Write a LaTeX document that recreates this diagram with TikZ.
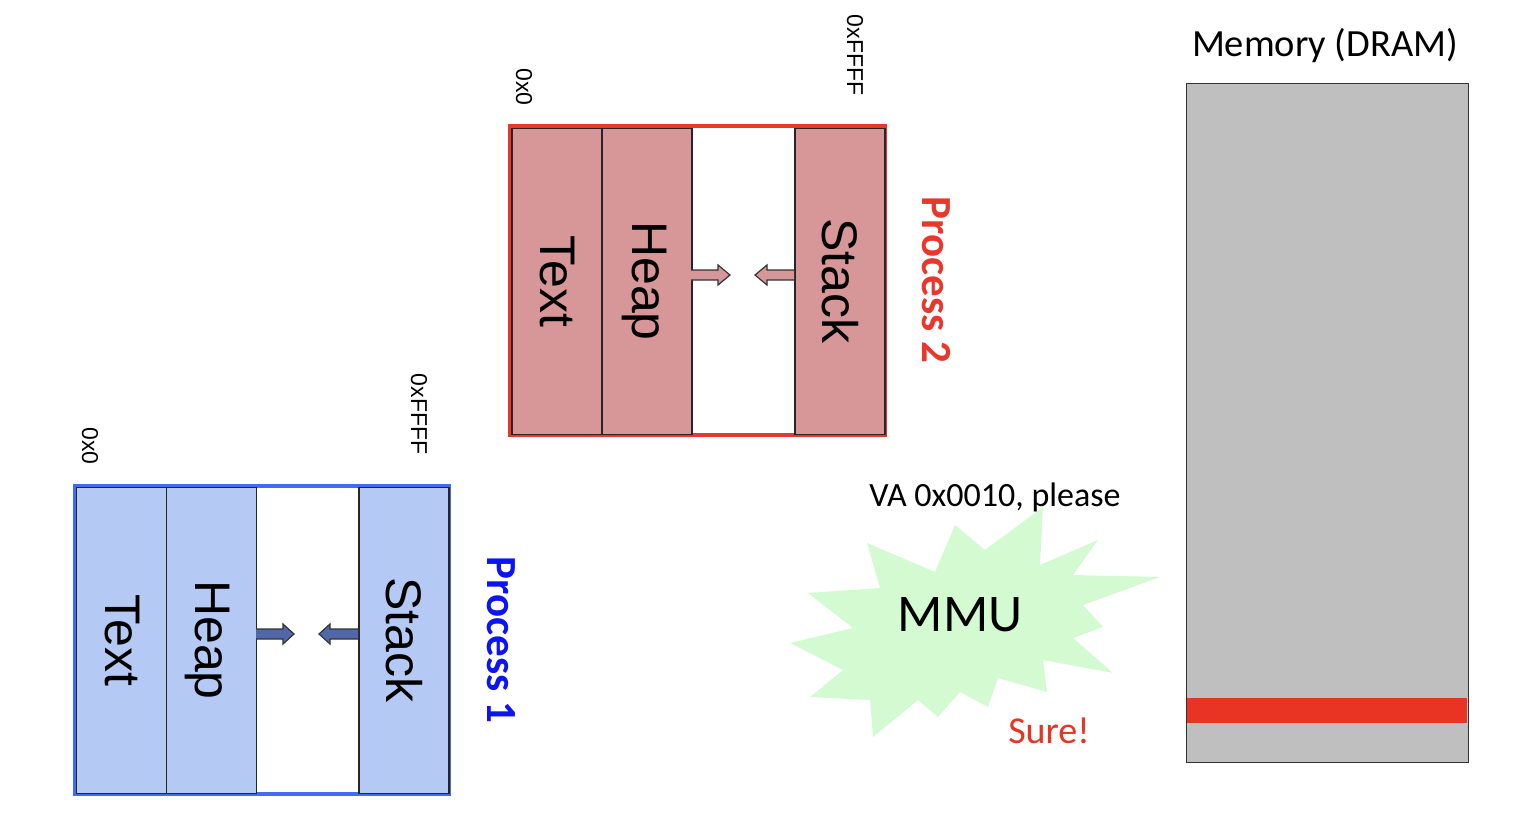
\documentclass[tikz,border=0pt]{standalone}
\usepackage{fontspec}
\setmainfont{Liberation Sans}
\newfontfamily\calfont{Carlito}
\definecolor{pinkfill}{RGB}{215,150,152}
\definecolor{redline}{RGB}{233,56,43}
\definecolor{bluefill}{RGB}{180,201,243}
\definecolor{blueline}{RGB}{66,108,240}
\definecolor{bluetext}{RGB}{10,20,245}
\definecolor{arrowblue}{RGB}{80,104,168}
\definecolor{memgray}{RGB}{191,191,191}
\definecolor{memred}{RGB}{233,52,36}
\definecolor{mmugreen}{RGB}{212,250,210}
\newcommand{\blockarrow}[5]{% x0, xh, xtip, y, fill
  \draw[line width=1.2pt, fill=#5, draw=black!80, line join=miter] (#1,#4-5) -- (#2,#4-5) -- (#2,#4-10) -- (#3,#4) -- (#2,#4+10) -- (#2,#4+5) -- (#1,#4+5);
}
\begin{document}
\begin{tikzpicture}[x=1pt,y=-1pt,
  col/.style={draw=black!85, line width=1.5pt, minimum width=#1, minimum height=306pt, inner sep=0pt, anchor=north west},
  seglabel/.style={font=\fontsize{50}{50}\selectfont, rotate=-90},
  addr/.style={font=\fontsize{23}{23}\selectfont, rotate=-90},
  proc/.style={font=\calfont\bfseries\fontsize{43}{43}\selectfont, rotate=-90}]
\useasboundingbox (0,0) rectangle (1530,816);

% ---------- Process 2 ----------
\draw[redline, line width=3.5pt] (510,126) rectangle (885,435);
\node[col=90pt, fill=pinkfill] (p2text) at (511,127.5) {};
\node[col=90pt, fill=pinkfill] (p2heap) at (601,127.5) {};
\node[col=90pt, fill=pinkfill] (p2stack) at (794,127.5) {};
\node[seglabel] at (557,281) {Text};
\node[seglabel] at (645,281) {Heap};
\node[seglabel] at (840,281) {Stack};
\blockarrow{691}{718}{730}{275}{pinkfill}
\blockarrow{794}{767}{755}{275}{pinkfill}
\node[addr] (p2lo) at (524,87) {0x0};
\node[addr] (p2hi) at (855,55) {0xFFFF};
\node[proc, text=redline] (p2) at (936,280) {Process 2};

% ---------- Process 1 ----------
\draw[blueline, line width=3.5pt] (75,486) rectangle (449,794);
\node[col=90pt, fill=bluefill] (p1text) at (75.5,486.5) {};
\node[col=90pt, fill=bluefill] (p1heap) at (165.5,486.5) {};
\node[col=90pt, fill=bluefill] (p1stack) at (358,486.5) {};
\node[seglabel] at (122,640) {Text};
\node[seglabel] at (208,640) {Heap};
\node[seglabel] at (404,640) {Stack};
\blockarrow{256}{283}{294}{634}{arrowblue}
\blockarrow{358}{330}{319}{634}{arrowblue}
\node[addr] (p1lo) at (90,446) {0x0};
\node[addr] (p1hi) at (419,414) {0xFFFF};
\node[proc, text=bluetext] (p1) at (501,640) {Process 1};

% ---------- MMU ----------
\fill[mmugreen] (790,643) -- (843,670) -- (810,697) -- (870,700) -- (873,737)
  -- (918,700) -- (938,717) -- (960,692) -- (988,707) -- (998,678)
  -- (1047,692) -- (1043,660) -- (1113,673) -- (1073,638) -- (1103,627)
  -- (1083,605) -- (1160,577) -- (1073,575) -- (1098,540) -- (1040,565)
  -- (1043,507) -- (985,550) -- (955,525) -- (935,572) -- (867,543)
  -- (880,588) -- (808,593) -- (853,628) -- cycle;
\node[font=\calfont\fontsize{53}{53}\selectfont] (mmu) at (960,615) {MMU};
\node[font=\calfont\fontsize{34}{34}\selectfont] (va) at (995,497) {VA 0x0010, please};
\node[font=\calfont\fontsize{38}{38}\selectfont, text=memred] (sure) at (1049,731) {Sure!};

% ---------- Memory ----------
\node[font=\calfont\fontsize{38.5}{38.5}\selectfont] (memtitle) at (1325,46) {Memory (DRAM)};
\node[draw=black!80, line width=1.3pt, fill=memgray, minimum width=282pt, minimum height=679pt, inner sep=0pt, anchor=north west] (mem) at (1186,83) {};
\fill[memred] (1187,698) rectangle (1467,723);
\end{tikzpicture}
\end{document}
